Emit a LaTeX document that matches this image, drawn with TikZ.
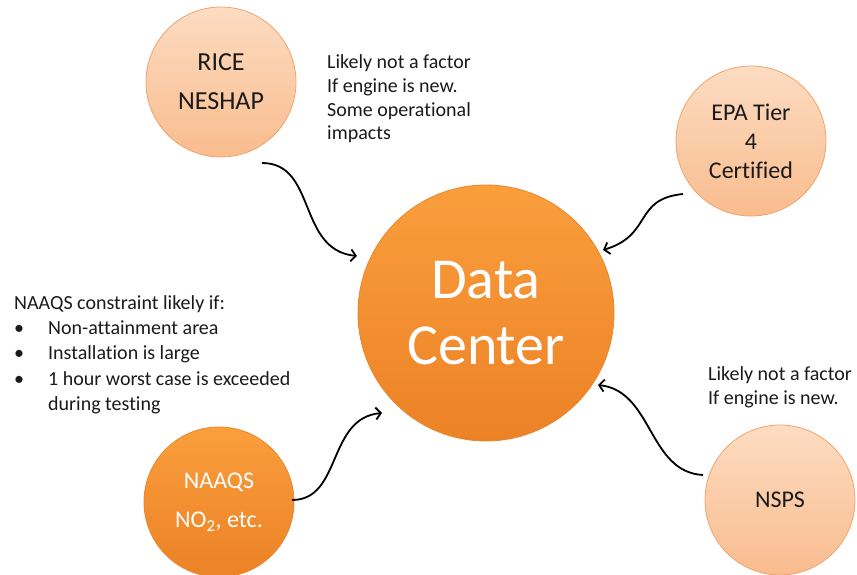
\documentclass[tikz,border=0pt]{standalone}
\usepackage{fontspec}
\setmainfont{Carlito}[Ligatures=NoCommon]
\usetikzlibrary{arrows.meta,calc}
\definecolor{peachtop}{HTML}{FCDCC2}
\definecolor{peachbot}{HTML}{F9BC8E}
\definecolor{peachline}{HTML}{F0A46C}
\definecolor{orangetop}{HTML}{FA9E3C}
\definecolor{orangebot}{HTML}{EC8226}
\definecolor{orangeline}{HTML}{E8872E}
\definecolor{txt}{HTML}{1A1A1A}
\begin{document}
\begin{tikzpicture}[x=1pt,y=-1pt,
  small/.style={circle, minimum size=150pt, inner sep=0pt, draw=peachline, line width=0.8pt,
    top color=peachtop, bottom color=peachbot, align=center, text=txt,
    font=\fontsize{24}{29}\selectfont},
  darksmall/.style={small, draw=orangeline, top color=orangetop, bottom color=orangebot, text=white},
  big/.style={circle, minimum size=256pt, inner sep=0pt, draw=orangeline, line width=0.8pt,
    top color=orangetop, bottom color=orangebot, align=center, text=white,
    font=\fontsize{58}{66}\selectfont},
  arr/.style={-{Straight Barb[length=5pt,width=12pt]}, line width=1.8pt, black},
  note/.style={anchor=north west, align=left, inner sep=0pt, text=txt,
    font=\fontsize{20}{23.8}\selectfont}]
\useasboundingbox (0,0) rectangle (857,575);
\node[small, font=\fontsize{26}{39}\selectfont] (rice) at (221,82) {RICE\\NESHAP};
\node[small] (epa) at (751,141) {EPA Tier\\4\\Certified};
\node[big] (dc) at (486,313) {Data\\Center};
\node[darksmall, font=\fontsize{24}{39}\selectfont] (naaqs) at (219,502) {NAAQS\\NO\textsubscript{2}, etc.};
\node[small] (nsps) at (780,500) {NSPS};
\node[note] (t1) at (327,54.5) {Likely not a factor\\If engine is new.\\Some operational\\impacts};
\node[note] (t2) at (708,366.5) {Likely not a factor\\If engine is new.};
\node[note, font=\fontsize{20}{25.2}\selectfont] (t3) at (14,295.5) {NAAQS constraint likely if:\\
\makebox[34pt][l]{•}Non-attainment area\\
\makebox[34pt][l]{•}Installation is large\\
\makebox[34pt][l]{•}1 hour worst case is exceeded\\
\hspace*{34pt}during testing};
\coordinate (a1s) at ($(rice.center)+(41,81)$);
\coordinate (a1e) at ($(dc.center)+(-129,-57)$);
\coordinate (a2s) at ($(epa.center)+(-68,53)$);
\coordinate (a2e) at ($(dc.center)+(117,-63)$);
\coordinate (a3s) at ($(naaqs.center)+(73,-2)$);
\coordinate (a3e) at ($(dc.center)+(-104,100)$);
\coordinate (a4s) at ($(nsps.center)+(-77,-25)$);
\coordinate (a4e) at ($(dc.center)+(112,72)$);
\draw[arr] (a1s) .. controls +(55,0) and +(-60,-6) .. (a1e);
\draw[arr] (a2s) .. controls +(-50,5) and +(50,-15) .. (a2e);
\draw[arr] (a3s) .. controls +(50,0) and +(-55,5) .. (a3e);
\draw[arr] (a4s) .. controls +(-55,-3) and +(55,6) .. (a4e);
\end{tikzpicture}
\end{document}
